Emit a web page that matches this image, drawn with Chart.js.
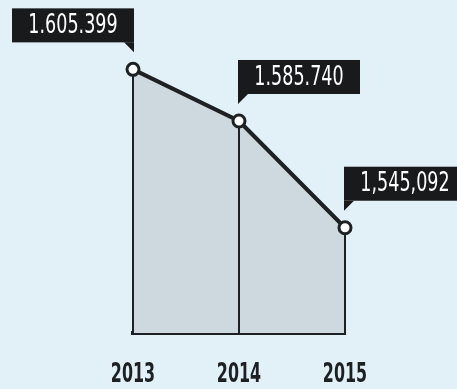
<!DOCTYPE html>
<html>
<head>
<meta charset="utf-8">
<script src="https://cdn.jsdelivr.net/npm/chart.js@4/dist/chart.umd.min.js"></script>
<style>
    html, body { margin: 0; padding: 0; background: #e2f0f8; }
    #wrap { width: 457px; height: 389px; position: relative; }
</style>
</head>
<body>
<div id="wrap"><canvas id="chart"></canvas></div>
<script>
const YEARS = ["2013", "2014", "2015"];
const VISITORS = [1605399, 1585740, 1545092];
const VALUE_LABELS = ["1.605.399", "1.585.740", "1,545,092"];
// which side of the point each callout box sits on
const LABEL_SIDE = ["left", "right", "right"];

const NARROW = "'DejaVu Sans Condensed', 'Liberation Sans Narrow', sans-serif";
const INK = "#1e2124";

// squeezed text, the original uses a very condensed typeface
function narrowText(ctx, text, x, y, font, squeeze) {
    ctx.save();
    ctx.translate(x, y);
    ctx.scale(squeeze, 1);
    ctx.font = font;
    ctx.textAlign = "center";
    ctx.textBaseline = "middle";
    ctx.fillText(text, 0, 0);
    ctx.restore();
}

// thin vertical lines from each point down to the baseline
const dropLines = {
    id: "dropLines",
    afterDatasetsDraw(chart) {
        const ctx = chart.ctx;
        const bottom = chart.chartArea.bottom;
        const pts = chart.getDatasetMeta(0).data;
        ctx.save();
        ctx.strokeStyle = INK;
        ctx.lineWidth = 2;
        pts.forEach(p => {
            ctx.beginPath();
            ctx.moveTo(p.x, p.y + 6);
            ctx.lineTo(p.x, bottom);
            ctx.stroke();
        });
        ctx.restore();
    },
};

// year labels under the baseline and black callout boxes with white numbers
const labels = {
    id: "labels",
    afterDraw(chart) {
        const ctx = chart.ctx;
        const xScale = chart.scales.x;
        ctx.save();
        ctx.fillStyle = INK;
        YEARS.forEach((yr, i) => {
            narrowText(ctx, yr, xScale.getPixelForValue(i), 375, "bold 26px " + NARROW, 0.68);
        });

        const pts = chart.getDatasetMeta(0).data;
        const w = 122, h = 34, gap = 27, tail = 10;
        pts.forEach((p, i) => {
            const bottom = p.y - gap;
            const top = bottom - h;
            const left = LABEL_SIDE[i] === "left" ? p.x + 1 - w : p.x - 1;
            const right = left + w;
            ctx.fillStyle = "#191a1b";
            ctx.fillRect(left, top, w, h);
            ctx.beginPath();
            if (LABEL_SIDE[i] === "left") {
                ctx.moveTo(right - tail, bottom);
                ctx.lineTo(right, bottom);
                ctx.lineTo(right, bottom + tail);
            } else {
                ctx.moveTo(left, bottom);
                ctx.lineTo(left + tail, bottom);
                ctx.lineTo(left, bottom + tail);
            }
            ctx.closePath();
            ctx.fill();
            ctx.fillStyle = "#ffffff";
            narrowText(ctx, VALUE_LABELS[i], left + w / 2, top + h / 2 + 1, "26px " + NARROW, 0.75);
        });
        ctx.restore();
    },
};

new Chart(document.getElementById("chart"), {
    type: "line",
    data: {
        labels: YEARS,
        datasets: [{
            data: VISITORS,
            fill: "start",
            backgroundColor: "#cdd8df",
            borderColor: INK,
            borderWidth: 4,
            tension: 0,
            pointRadius: 6,
            pointBackgroundColor: "#ffffff",
            pointBorderColor: INK,
            pointBorderWidth: 3,
        }],
    },
    options: {
        events: [],
        animation: false,
        responsive: true,
        maintainAspectRatio: false,
        layout: { padding: { left: 133, right: 112, top: 20, bottom: 0 } },
        plugins: { legend: { display: false }, tooltip: { enabled: false } },
        scales: {
            x: {
                offset: false,
                grid: { display: false },
                border: { display: true, color: INK, width: 4 },
                ticks: { display: false },
                afterFit(scale) { scale.height = 56; },
            },
            y: {
                display: false,
                min: 1505000,
                max: 1624200,
            },
        },
    },
    plugins: [dropLines, labels],
});
</script>
</body>
</html>
